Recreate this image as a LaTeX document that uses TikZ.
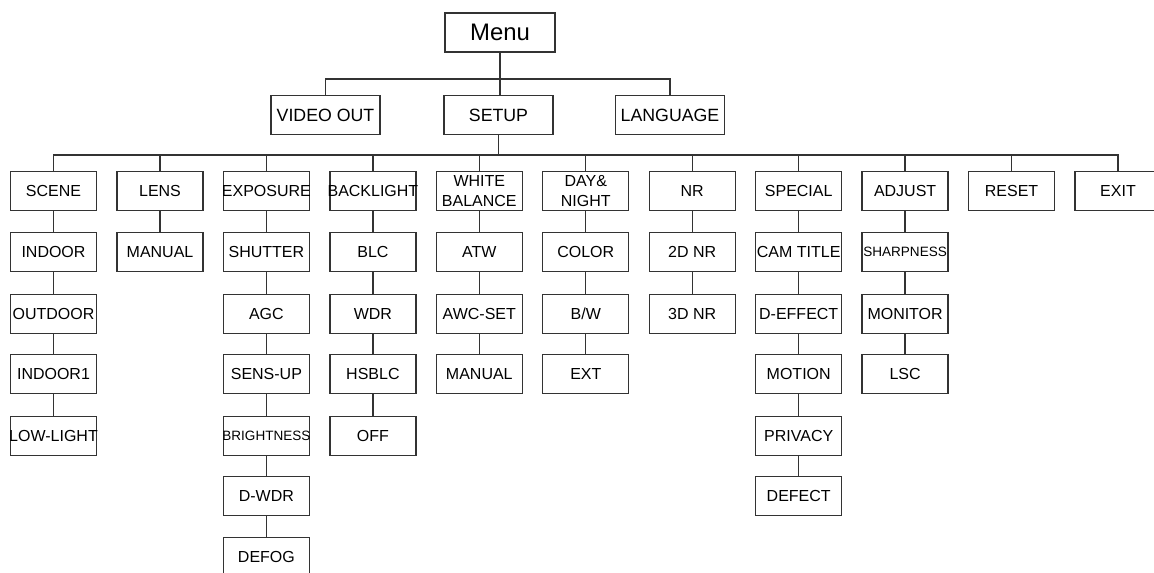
\documentclass[tikz,border=0pt]{standalone}
\usepackage{fontspec}
\setmainfont{Liberation Sans}
\usepackage{tikz}

\newcommand{\spill}[1]{\makebox[0pt]{#1}}

\begin{document}
\begin{tikzpicture}[x = 0.02cm, y = -0.02cm, line width = 0.7pt, black!80,
                    head/.style = {rectangle, draw, text = black, minimum width = 2.18cm, minimum height = 0.77cm,
                                   inner sep = 0pt, font = \fontsize{10.1}{12}\selectfont},
                    entry/.style = {rectangle, draw, text = black, minimum width = 1.72cm, minimum height = 0.77cm,
                                    inner sep = 0pt, align = center, font = \fontsize{9.1}{11.4}\selectfont},
                    smallentry/.style = {entry, font = \fontsize{7.7}{9}\selectfont}]
  \useasboundingbox (0, 0) rectangle (1154, 572);

  % top levels
  \node [head, minimum width = 2.2cm, minimum height = 0.78cm,
         font = \fontsize{13.6}{16}\selectfont] (Menu) at (500, 32.5) {Menu};
  \node [head] (VideoOut) at (325.5, 115) {VIDEO OUT};
  \node [head] (Setup) at (498.5, 115) {SETUP};
  \node [head] (Language) at (670, 115) {LANGUAGE};

  % setup items
  \node [entry] (Scene) at (53.5, 191) {SCENE};
  \node [entry] (Lens) at (160, 191) {LENS};
  \node [entry] (Exposure) at (266.4, 191) {\spill{EXPOSURE}};
  \node [entry] (Backlight) at (372.9, 191) {\spill{BACKLIGHT}};
  \node [entry] (WhiteBal) at (479.3, 191) {WHITE\\BALANCE};
  \node [entry] (DayNight) at (585.8, 191) {DAY\&\\NIGHT};
  \node [entry] (NR) at (692.2, 191) {NR};
  \node [entry] (Special) at (798.7, 191) {SPECIAL};
  \node [entry] (Adjust) at (905.1, 191) {ADJUST};
  \node [entry] (Reset) at (1011.6, 191) {RESET};
  \node [entry] (Exit) at (1118, 191) {EXIT};

  \node [entry] (Indoor) at (53.5, 252) {INDOOR};
  \node [entry] (Outdoor) at (53.5, 314) {OUTDOOR};
  \node [entry] (Indoor1) at (53.5, 374) {INDOOR1};
  \node [entry] (LowLight) at (53.5, 436) {\spill{LOW-LIGHT}};

  \node [entry] (LensManual) at (160, 252) {MANUAL};

  \node [entry] (Shutter) at (266.4, 252) {SHUTTER};
  \node [entry] (AGC) at (266.4, 314) {AGC};
  \node [entry] (SensUp) at (266.4, 374) {SENS-UP};
  \node [smallentry] (Brightness) at (266.4, 436) {\spill{BRIGHTNESS}};
  \node [entry] (DWDR) at (266.4, 496) {D-WDR};
  \node [entry] (Defog) at (266.4, 557) {DEFOG};

  \node [entry] (BLC) at (372.9, 252) {BLC};
  \node [entry] (WDR) at (372.9, 314) {WDR};
  \node [entry] (HSBLC) at (372.9, 374) {HSBLC};
  \node [entry] (Off) at (372.9, 436) {OFF};

  \node [entry] (ATW) at (479.3, 252) {ATW};
  \node [entry] (AWCSet) at (479.3, 314) {AWC-SET};
  \node [entry] (WBManual) at (479.3, 374) {MANUAL};

  \node [entry] (Color) at (585.8, 252) {COLOR};
  \node [entry] (BW) at (585.8, 314) {B/W};
  \node [entry] (Ext) at (585.8, 374) {EXT};

  \node [entry] (NR2D) at (692.2, 252) {2D NR};
  \node [entry] (NR3D) at (692.2, 314) {3D NR};

  \node [entry] (CamTitle) at (798.7, 252) {\spill{CAM TITLE}};
  \node [entry] (DEffect) at (798.7, 314) {D-EFFECT};
  \node [entry] (Motion) at (798.7, 374) {MOTION};
  \node [entry] (Privacy) at (798.7, 436) {PRIVACY};
  \node [entry] (Defect) at (798.7, 496) {DEFECT};

  \node [smallentry] (Sharpness) at (905.1, 252) {SHARPNESS};
  \node [entry] (Monitor) at (905.1, 314) {MONITOR};
  \node [entry] (LSC) at (905.1, 374) {LSC};

  % buses
  \coordinate (TopBus) at (500, 79);
  \coordinate (SubBus) at (500, 155);

  \draw (Menu.south) -- (Menu.south |- Setup.north);
  \draw (VideoOut.north) |- (TopBus) -| (Language.north);
  \draw (Setup.south) -- (Setup.south |- SubBus);
  \draw (Scene.north) |- (SubBus) -| (Exit.north);
  \draw (Lens.north) -- (Lens.north |- SubBus);
  \draw (Exposure.north) -- (Exposure.north |- SubBus);
  \draw (Backlight.north) -- (Backlight.north |- SubBus);
  \draw (WhiteBal.north) -- (WhiteBal.north |- SubBus);
  \draw (DayNight.north) -- (DayNight.north |- SubBus);
  \draw (NR.north) -- (NR.north |- SubBus);
  \draw (Special.north) -- (Special.north |- SubBus);
  \draw (Adjust.north) -- (Adjust.north |- SubBus);
  \draw (Reset.north) -- (Reset.north |- SubBus);

  % columns
  \draw (Scene) -- (Indoor) -- (Outdoor) -- (Indoor1) -- (LowLight);
  \draw (Lens) -- (LensManual);
  \draw (Exposure) -- (Shutter) -- (AGC) -- (SensUp) -- (Brightness) -- (DWDR) -- (Defog);
  \draw (Backlight) -- (BLC) -- (WDR) -- (HSBLC) -- (Off);
  \draw (WhiteBal) -- (ATW) -- (AWCSet) -- (WBManual);
  \draw (DayNight) -- (Color) -- (BW) -- (Ext);
  \draw (NR) -- (NR2D) -- (NR3D);
  \draw (Special) -- (CamTitle) -- (DEffect) -- (Motion) -- (Privacy) -- (Defect);
  \draw (Adjust) -- (Sharpness) -- (Monitor) -- (LSC);
\end{tikzpicture}
\end{document}
